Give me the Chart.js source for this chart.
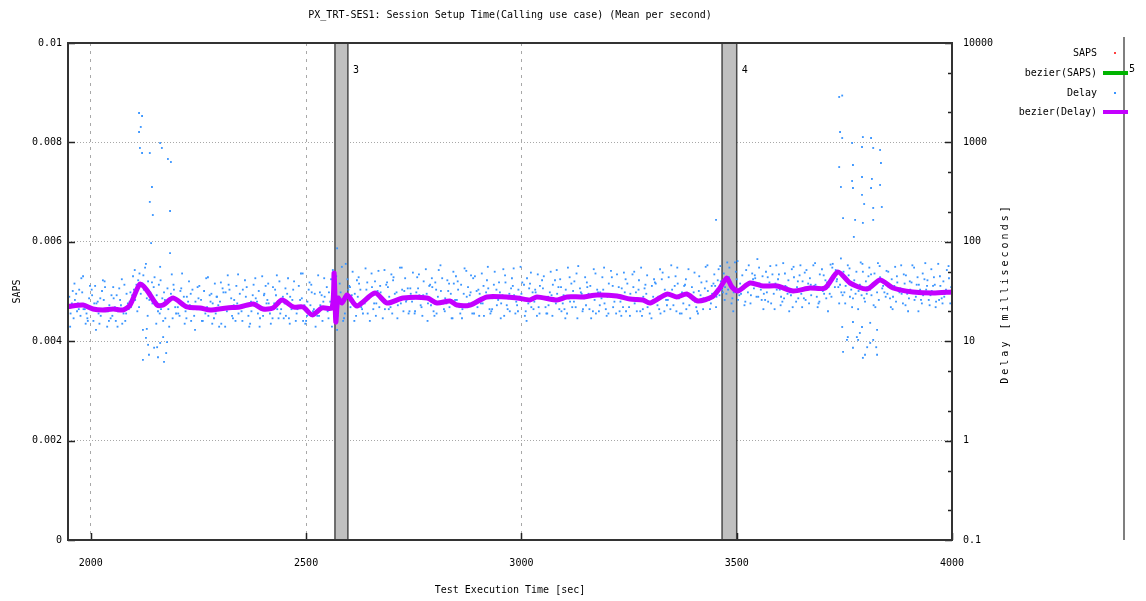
<!DOCTYPE html>
<html>
<head>
<meta charset="utf-8">
<title>PX_TRT-SES1</title>
<script src="https://cdn.jsdelivr.net/npm/chart.js@4.4.0/dist/chart.umd.min.js"></script>
<style>
  html, body { margin: 0; padding: 0; background: #fff; }
  canvas { display: block; }
</style>
</head>
<body>
<canvas id="chart" width="1146" height="601"></canvas>
<script>
const xTicks = [2000, 2500, 3000, 3500, 4000];
const sapsTicks = [0, 0.002, 0.004, 0.006, 0.008, 0.01];
const delayTicks = [0.1, 1, 10, 100, 1000, 10000];
const delayMinor = [2, 5];

// test phase markers
const phaseStart = [2567, 3466];
const phaseEnd = [2597, 3500];
const phaseLabel = ['3', '4'];

// delay samples (ms), one value per row every 10 s starting at sampleStart
const sampleStart = 1950;
const sampleStep = 10;
const rowOffset = [0, 3, 6, 2, 8];
const delayRowA = [
  28, 17, 24, 31, 19, 22, 36, 15, 26, 20,
  18, 29, 23, 16, 25,
  33, 41, 38, 27, 30,
  24, 19, 31, 21, 17, 26, 34, 20, 23, 18,
  27, 16, 22, 30, 19, 25, 21, 37, 17, 24,
  20, 28, 15, 23, 32, 18, 26, 22, 29, 19,
  24, 17, 33, 21, 27, 16, 23, 30, 18, 25,
  20, 14, 45, 31, 19, 36, 24, 28, 21, 33,
  29, 40, 22, 26, 35, 19, 31, 24, 43, 20,
  27, 34, 18, 30, 23, 39, 25, 21, 32, 17,
  26, 37, 22, 29, 19, 33, 24, 41, 20, 28,
  31, 18, 27, 36, 23, 30, 20, 38, 25, 22,
  34, 19, 29, 24, 42, 21, 27, 32, 17, 30,
  23, 36, 26, 20, 33, 28, 44, 19, 25, 31,
  22, 35, 27, 18, 30, 24, 39, 21, 29, 26,
  33, 20, 28, 37, 23, 31, 19, 26, 40, 24,
  36, 29, 48, 33, 27, 42, 30, 25, 39, 34,
  28, 45, 31, 24, 38, 33, 27, 41, 22, 35,
  30, 26, 43, 36, 24, 32, 39, 28, 52, 37,
  31, 46, 27, 35, 29, 40, 33, 48, 26, 36,
  30, 42, 25, 34, 38, 27, 31, 44, 24, 33,
  29, 37, 26, 40, 31, 28
];
const delayRowB = [
  19, 26, 33, 21, 16, 29, 24, 18, 35, 23,
  27, 20, 15, 30, 22,
  26, 48, 33, 40, 24,
  29, 21, 17, 27, 33, 19, 23, 28, 16, 25,
  21, 32, 18, 24, 28, 15, 31, 22, 26, 19,
  33, 23, 20, 27, 17, 30, 24, 35, 21, 26,
  18, 28, 22, 36, 16, 25, 31, 19, 23, 28,
  31, 26, 18, 56, 27, 22, 30, 38, 25, 19,
  35, 24, 31, 21, 28, 44, 23, 33, 26, 30,
  20, 29, 40, 24, 35, 19, 32, 27, 22, 38,
  33, 21, 28, 46, 25, 30, 18, 34, 27, 23,
  24, 39, 20, 29, 33, 26, 43, 22, 31, 36,
  27, 23, 37, 30, 20, 33, 25, 40, 28, 21,
  35, 28, 19, 31, 24, 38, 22, 29, 34, 20,
  30, 24, 41, 28, 22, 36, 26, 19, 33, 29,
  23, 38, 31, 21, 29, 25, 45, 27, 32, 30,
  28, 40, 35, 55, 31, 26, 46, 37, 29, 43,
  38, 30, 25, 47, 33, 28, 36, 31, 44, 27,
  40, 33, 29, 37, 47, 30, 35, 60, 42, 31,
  36, 28, 41, 32, 50, 35, 29, 38, 44, 31,
  35, 28, 39, 30, 46, 33, 26, 37, 29, 41,
  32, 25, 36, 30, 43, 34
];
const delayRowC = [
  24, 30, 18, 21, 27, 16, 25, 32, 20, 17,
  22, 34, 19, 24, 29,
  37, 30, 55, 26, 35,
  20, 27, 24, 30, 22, 18, 28, 25, 33, 21,
  26, 19, 29, 17, 23, 34, 20, 27, 16, 30,
  22, 18, 29, 25, 21, 36, 19, 24, 17, 28,
  30, 21, 16, 26, 23, 33, 20, 18, 29, 22,
  25, 37, 28, 16, 42, 29, 18, 33, 24, 27,
  21, 32, 26, 37, 22, 30, 27, 20, 34, 25,
  31, 23, 27, 36, 20, 28, 43, 24, 30, 26,
  22, 30, 35, 19, 32, 24, 28, 21, 37, 26,
  29, 23, 34, 19, 28, 37, 24, 31, 18, 27,
  22, 31, 26, 35, 24, 19, 38, 22, 34, 27,
  30, 20, 33, 27, 21, 29, 25, 35, 22, 38,
  27, 31, 20, 34, 25, 28, 23, 42, 26, 21,
  36, 27, 24, 30, 35, 22, 29, 34, 26, 38,
  41, 33, 30, 38, 62, 29, 34, 31, 48, 28,
  33, 26, 39, 30, 42, 25, 35, 29, 32, 46,
  27, 38, 34, 28, 33, 41, 30, 45, 35, 29,
  42, 33, 30, 37, 27, 45, 36, 31, 40, 28,
  27, 36, 32, 24, 30, 39, 28, 33, 42, 26,
  36, 30, 27, 33, 24, 38
];
const delayRowD = [
  14, 38, 21, 45, 17, 33, 13, 27, 40, 16,
  35, 14, 42, 19, 31,
  52, 22, 46, 18, 39,
  15, 41, 26, 14, 37, 22, 48, 17, 30, 13,
  36, 21, 44, 15, 28, 39, 14, 33, 23, 47,
  16, 35, 25, 43, 14, 29, 38, 17, 46, 21,
  34, 15, 40, 22, 48, 18, 37, 14, 31, 43,
  17, 52, 13, 24, 60, 35, 16, 44, 19, 39,
  48, 18, 36, 52, 21, 41, 17, 55, 25, 34,
  19, 47, 29, 16, 43, 33, 58, 20, 38, 50,
  40, 17, 51, 31, 45, 18, 36, 56, 21, 33,
  17, 46, 30, 54, 20, 39, 16, 49, 33, 19,
  45, 28, 18, 52, 35, 17, 44, 25, 57, 20,
  39, 17, 48, 23, 55, 19, 36, 47, 18, 42,
  18, 50, 33, 21, 46, 17, 38, 53, 20, 44,
  28, 55, 19, 42, 17, 49, 32, 21, 58, 36,
  22, 57, 26, 44, 20, 64, 35, 52, 24, 46,
  55, 21, 44, 36, 58, 23, 48, 20, 56, 40,
  22, 52, 37, 61, 25, 46, 20, 55, 40, 68,
  24, 54, 38, 21, 60, 30, 47, 22, 57, 40,
  50, 21, 45, 58, 23, 40, 55, 20, 48, 36,
  53, 22, 45, 28, 57, 21
];
const delayRowE = [
  32, 20, 43, 15, 36, 24, 19, 41, 14, 29,
  16, 26, 37, 21, 45,
  20, 36, 60, 31, 44,
  37, 16, 34, 47, 19, 32, 15, 40, 21, 35,
  16, 43, 25, 38, 14, 31, 46, 18, 36, 22,
  41, 14, 37, 19, 45, 24, 15, 33, 40, 17,
  43, 26, 19, 48, 15, 39, 21, 46, 16, 35,
  42, 24, 38, 17, 33, 50, 41, 22, 54, 16,
  24, 51, 17, 39, 47, 25, 55, 32, 19, 49,
  44, 22, 53, 37, 18, 52, 24, 41, 17, 45,
  19, 54, 24, 43, 22, 48, 31, 19, 50, 39,
  53, 21, 43, 25, 56, 18, 34, 21, 47, 41,
  19, 50, 41, 21, 29, 55, 22, 48, 31, 44,
  21, 53, 31, 44, 18, 51, 28, 20, 49, 26,
  47, 20, 55, 37, 19, 42, 28, 49, 23, 58,
  45, 19, 36, 53, 26, 20, 39, 56, 21, 47,
  53, 31, 62, 24, 50, 38, 23, 58, 42, 67,
  26, 50, 57, 21, 47, 61, 30, 53, 25, 58,
  49, 24, 58, 22, 53, 27, 59, 35, 24, 50,
  58, 22, 50, 62, 25, 55, 23, 61, 34, 51,
  22, 56, 31, 47, 20, 58, 37, 26, 61, 23,
  44, 60, 24, 52, 35, 47
];

// isolated slow / fast calls
const outlierTime = [
  2112, 2119, 2112, 2116, 2114, 2119, 2137, 2161, 2165, 2179, 2186, 2142, 2137, 2144, 2184, 2140, 2184, 2161,
  2121, 2128, 2121, 2135, 2147, 2154, 2156, 2170, 2175, 2161, 2133, 2130, 2177, 2168,
  2572, 3452,
  3738, 3745, 3740, 3745, 3738, 3742, 3747, 3768, 3770, 3768, 3770, 3775, 3772, 3791, 3793,
  3791, 3791, 3796, 3793, 3812, 3817, 3814, 3812, 3817, 3817, 3833, 3835, 3833, 3837,
  3745, 3758, 3756, 3779, 3782, 3770, 3786, 3803, 3810, 3817, 3826, 3824, 3798, 3826,
  3791, 3770, 3810, 3793, 3747
];
const outlierDelay = [
  1977, 1845, 1273, 1430, 879, 782, 782, 986, 879, 681, 635, 356, 252, 186, 204, 97, 77, 56,
  13.0, 10.8, 6.5, 7.3, 8.6, 8.7, 6.9, 6.2, 7.6, 9.6, 9.2, 13.3, 9.8, 11.0,
  86, 166,
  2864, 2960, 1273, 1107, 565, 356, 173, 986, 593, 409, 348, 166, 112, 899, 1132,
  449, 296, 240, 155, 1107, 879, 429, 348, 219, 166, 839, 621, 373, 224,
  13.9, 11.0, 10.3, 11.0, 10.3, 8.6, 12.1, 8.7, 9.6, 10.3, 13.0, 8.7, 7.3, 7.3,
  13.9, 15.6, 15.3, 6.8, 7.8
];

// smoothed delay curve
const bezierTime = [
  1947, 1982, 2005, 2028, 2052, 2075, 2091, 2114, 2130, 2154, 2168, 2191, 2223, 2254, 2277, 2316,
  2346, 2377, 2400, 2423, 2444, 2470, 2493, 2514, 2537, 2560, 2565, 2569, 2574, 2583, 2595, 2602,
  2618, 2660, 2688, 2725, 2781, 2804, 2834, 2850, 2881, 2920, 2990, 3020, 3036, 3083, 3106, 3143,
  3176, 3222, 3252, 3282, 3299, 3338, 3361, 3384, 3410, 3443, 3461, 3477, 3489, 3503, 3531, 3561,
  3594, 3631, 3670, 3705, 3735, 3763, 3803, 3833, 3863, 3909, 3956, 4000
];
const bezierDelay = [
  22.3, 23.1, 21.1, 20.6, 21.1, 20.6, 23.1, 37.6, 32.7, 23.1, 23.1, 27.2, 22.1, 21.6, 20.6, 21.6,
  22.1, 23.7, 21.1, 21.6, 26.0, 22.1, 22.1, 18.4, 21.6, 21.6, 48.5, 15.6, 27.2, 24.2, 29.2, 27.2,
  22.6, 30.5, 24.2, 27.2, 27.2, 24.2, 25.4, 23.1, 23.1, 27.9, 27.2, 26.0, 27.9, 26.0, 27.9, 27.9,
  29.2, 28.5, 26.6, 26.0, 24.2, 29.8, 27.9, 29.8, 25.4, 27.9, 34.3, 43.2, 35.1, 32.0, 38.5, 35.9,
  35.9, 32.0, 34.3, 34.3, 49.7, 38.5, 33.5, 41.3, 34.3, 31.3, 30.5, 31.3
];

const FONT_FAMILY = '"DejaVu Sans Mono", monospace';
const FONT = '10px ' + FONT_FAMILY;
const PURPLE = '#c400ff';
const BLUE = '#3a95ff';

const delayPoints = [];
[delayRowA, delayRowB, delayRowC, delayRowD, delayRowE].forEach((row, r) => {
  row.forEach((v, i) => delayPoints.push({ x: sampleStart + i * sampleStep + rowOffset[r], y: v }));
});
outlierTime.forEach((t, i) => delayPoints.push({ x: t, y: outlierDelay[i] }));

const bezierPoints = bezierTime.map((t, i) => ({ x: t, y: bezierDelay[i] }));

const delayTickValues = [];
delayTicks.forEach((d, i) => {
  delayTickValues.push(d);
  if (i < delayTicks.length - 1) delayMinor.forEach(m => delayTickValues.push(d * m));
});

const gnuplotDecor = {
  id: 'gnuplotDecor',
  beforeDatasetsDraw(chart) {
    const { ctx, chartArea: a, scales: { x } } = chart;
    ctx.save();
    phaseStart.forEach((s, i) => {
      const x0 = x.getPixelForValue(s);
      const x1 = x.getPixelForValue(phaseEnd[i]);
      ctx.fillStyle = '#c0c0c0';
      ctx.fillRect(x0, a.top, x1 - x0, a.bottom - a.top);
      ctx.strokeStyle = '#4a4a4a';
      ctx.lineWidth = 1.5;
      ctx.beginPath();
      ctx.moveTo(x0, a.top); ctx.lineTo(x0, a.bottom);
      ctx.moveTo(x1, a.top); ctx.lineTo(x1, a.bottom);
      ctx.stroke();
      ctx.fillStyle = '#000';
      ctx.font = FONT;
      ctx.textAlign = 'left';
      ctx.textBaseline = 'middle';
      ctx.fillText(phaseLabel[i], x1 + 5, a.top + 27);
    });
    ctx.restore();
  },
  afterDatasetsDraw(chart) {
    const { ctx, chartArea: a, scales: { x, y, y2 } } = chart;
    ctx.save();
    ctx.strokeStyle = '#222';
    ctx.lineWidth = 1.5;
    ctx.beginPath();
    // inward tick marks
    sapsTicks.forEach(v => {
      const p = Math.round(y.getPixelForValue(v)) + 0.5;
      ctx.moveTo(a.left, p); ctx.lineTo(a.left + 7, p);
    });
    delayTickValues.forEach(v => {
      const p = Math.round(y2.getPixelForValue(v)) + 0.5;
      const len = delayTicks.includes(v) ? 7 : 4;
      ctx.moveTo(a.right, p); ctx.lineTo(a.right - len, p);
    });
    xTicks.forEach(v => {
      const p = Math.round(x.getPixelForValue(v)) + 0.5;
      ctx.moveTo(p, a.bottom); ctx.lineTo(p, a.bottom - 7);
    });
    ctx.stroke();
    ctx.strokeStyle = '#333';
    ctx.lineWidth = 2;
    ctx.strokeRect(a.left, a.top, a.right - a.left, a.bottom - a.top);
    ctx.restore();
  },
  afterDraw(chart) {
    const { ctx, chartArea: a } = chart;
    ctx.save();
    ctx.font = FONT;
    ctx.fillStyle = '#000';
    ctx.textBaseline = 'middle';

    // right axis title, reading bottom to top
    ctx.save();
    ctx.translate(1005, (a.top + a.bottom) / 2 + 2);
    ctx.rotate(-Math.PI / 2);
    ctx.textAlign = 'center';
    ctx.letterSpacing = '3px';
    ctx.fillText('Delay [milliseconds]', 0, 0);
    ctx.restore();

    // key
    const keyX = 1097, sampleX = 1103, sampleEnd = 1128;
    ctx.textAlign = 'right';
    ctx.fillText('SAPS', keyX, 53);
    ctx.fillText('bezier(SAPS)', keyX, 73);
    ctx.fillText('Delay', keyX, 93);
    ctx.fillText('bezier(Delay)', keyX, 112);
    ctx.fillStyle = '#ff4040';
    ctx.fillRect(1114, 52, 2, 2);
    ctx.fillStyle = BLUE;
    ctx.fillRect(1114, 92, 2, 2);

    ctx.strokeStyle = '#555';
    ctx.lineWidth = 1.5;
    ctx.beginPath();
    ctx.moveTo(1124, 37); ctx.lineTo(1124, a.bottom);
    ctx.stroke();

    ctx.lineWidth = 4;
    ctx.strokeStyle = '#00b400';
    ctx.beginPath(); ctx.moveTo(sampleX, 73); ctx.lineTo(sampleEnd, 73); ctx.stroke();
    ctx.strokeStyle = PURPLE;
    ctx.beginPath(); ctx.moveTo(sampleX, 112); ctx.lineTo(sampleEnd, 112); ctx.stroke();

    ctx.fillStyle = '#000';
    ctx.textAlign = 'left';
    ctx.fillText('5', 1129, 69);
    ctx.restore();
  }
};

Chart.defaults.font.family = FONT_FAMILY;
Chart.defaults.font.size = 10;
Chart.defaults.color = '#000';

new Chart(document.getElementById('chart'), {
  data: {
    datasets: [
      {
        type: 'line',
        label: 'bezier(Delay)',
        data: bezierPoints,
        yAxisID: 'y2',
        borderColor: PURPLE,
        borderWidth: 5,
        borderJoinStyle: 'round',
        pointRadius: 0,
        tension: 0.25,
        order: 1
      },
      {
        type: 'scatter',
        label: 'Delay',
        data: delayPoints,
        yAxisID: 'y2',
        backgroundColor: BLUE,
        borderWidth: 0,
        pointStyle: 'rect',
        pointRadius: 1.3,
        order: 2
      }
    ]
  },
  options: {
    responsive: false,
    animation: false,
    devicePixelRatio: 1,
    layout: { padding: { right: 130 } },
    plugins: {
      legend: { display: false },
      tooltip: { enabled: false },
      title: {
        display: true,
        fullSize: false,
        text: 'PX_TRT-SES1: Session Setup Time(Calling use case) (Mean per second)',
        font: { size: 10, weight: 'normal' },
        color: '#000',
        padding: { top: 9, bottom: 22 }
      }
    },
    scales: {
      x: {
        type: 'linear',
        position: 'bottom',
        min: 1947,
        max: 4000,
        afterBuildTicks: s => { s.ticks = xTicks.map(v => ({ value: v })); },
        afterFit: s => { s.height = 61; },
        ticks: { padding: 17, autoSkip: false, maxRotation: 0, callback: v => String(v) },
        grid: { color: '#a8a8a8', drawTicks: false },
        border: { display: false, dash: [3, 5] },
        title: { display: true, text: 'Test Execution Time [sec]', padding: { top: 0, bottom: 5 } }
      },
      y: {
        type: 'linear',
        position: 'left',
        min: 0,
        max: 0.01,
        afterBuildTicks: s => { s.ticks = sapsTicks.map(v => ({ value: v })); },
        afterFit: s => { s.width = 68; },
        ticks: { padding: 6, autoSkip: false, callback: v => String(+v.toFixed(3)) },
        grid: { color: '#a8a8a8', drawTicks: false },
        border: { display: false, dash: [1, 2] },
        title: { display: true, text: 'SAPS', padding: { top: 11, bottom: 0 } }
      },
      y2: {
        type: 'logarithmic',
        position: 'right',
        min: 0.1,
        max: 10000,
        afterBuildTicks: s => { s.ticks = delayTickValues.map(v => ({ value: v })); },
        afterFit: s => { s.width = 64; },
        ticks: {
          padding: 11,
          autoSkip: false,
          callback: v => delayTicks.includes(v) ? String(v) : ''
        },
        grid: { drawOnChartArea: false, drawTicks: false },
        border: { display: false }
      }
    }
  },
  plugins: [gnuplotDecor]
});
</script>
</body>
</html>
